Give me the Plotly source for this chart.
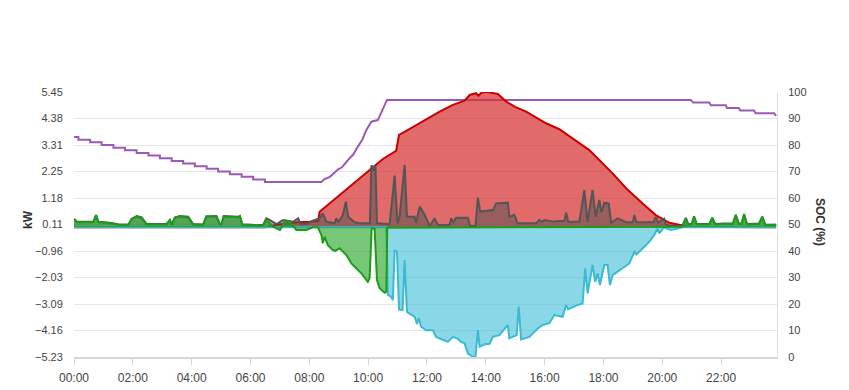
import plotly.graph_objects as go

# ---- data (time in hours of day) ----
hour_ticks = [0, 2, 4, 6, 8, 10, 12, 14, 16, 18, 20, 22]
hour_labels = ["00:00", "02:00", "04:00", "06:00", "08:00", "10:00", "12:00",
               "14:00", "16:00", "18:00", "20:00", "22:00"]
kw_ticks = [-5.23, -4.16, -3.09, -2.03, -0.96, 0.11, 1.18, 2.25, 3.31, 4.38, 5.45]
soc_ticks = [0, 10, 20, 30, 40, 50, 60, 70, 80, 90, 100]

solar_t = [0, 6.5, 6.9, 7.2, 7.6, 8.0, 8.3, 8.35, 8.6, 9.0, 9.26, 9.6, 10.16, 10.5, 10.95,
           11.05, 11.4, 11.75, 12.1, 12.43, 12.88, 13.28, 13.45, 13.67, 13.75, 13.85, 14.01,
           14.41, 14.7, 15.0, 15.37, 16.05, 16.5, 17.18, 17.52, 18.31, 18.77, 19.33, 19.78,
           20.24, 20.58, 20.9, 23.87]
solar_kw = [0, 0, 0.1, 0.15, 0.2, 0.22, 0.25, 0.62, 0.87, 1.25, 1.5, 1.86, 2.44, 2.75, 3.08,
            3.72, 3.95, 4.19, 4.4, 4.66, 4.93, 5.1, 5.33, 5.4, 5.3, 5.42, 5.46,
            5.37, 5.06, 4.85, 4.66, 4.19, 3.95, 3.38, 3.11, 2.17, 1.57, 0.96, 0.49,
            0.18, 0.09, 0.02, 0]

load_t = [0.0, 0.1, 0.66, 0.75, 0.83, 1.22, 1.5, 1.85, 1.96, 2.13, 2.3, 2.47, 3.15, 3.26, 3.32,
          3.43, 3.6, 3.88, 4.05, 4.39, 4.5, 4.84, 4.96, 5.01, 5.09, 5.58, 5.64, 5.72, 6.03,
          6.2, 6.43, 6.54, 6.65, 6.88, 7.11, 7.3, 7.45, 7.62, 7.7, 7.95, 8.12, 8.35, 8.46,
          8.58, 8.86, 8.92, 9.0, 9.14, 9.24, 9.32, 9.45, 9.54, 9.71, 10.06, 10.11, 10.18, 10.21,
          10.25, 10.3, 10.73, 10.9, 11.0, 11.07, 11.24, 11.32, 11.58, 11.63, 11.75, 11.92, 12.09,
          12.26, 12.37, 12.77, 12.82, 12.9, 12.99, 13.39, 13.47, 13.65, 13.73, 13.81, 14.24,
          14.35, 14.75, 14.8, 14.97, 15.08, 15.71, 15.82, 15.9, 16.0, 16.3, 16.5, 16.67,
          16.73, 16.8, 17.18, 17.35, 17.46, 17.63, 17.74, 17.86, 17.93, 18.03, 18.18, 18.26,
          18.48, 18.77, 19.0, 19.05, 19.12, 19.7, 19.78, 19.86, 20.06, 20.12, 20.3, 20.69,
          20.8, 20.88, 21.0, 21.08, 21.17, 21.6, 21.7, 21.8, 22.1, 22.4, 22.5, 22.6, 22.7,
          22.78, 22.88, 23.29, 23.4, 23.5, 23.83, 23.87]
load_kw = [0.33, 0.22, 0.22, 0.49, 0.22, 0.18, 0.12, 0.11, 0.33, 0.45, 0.4, 0.13, 0.13, 0.29, 0.11,
           0.39, 0.45, 0.42, 0.13, 0.11, 0.43, 0.45, 0.13, 0.13, 0.45, 0.42, 0.45, 0.12, 0.1,
           0.08, 0.1, 0.36, 0.3, 0.13, 0.29, 0.25, 0.22, 0.36, 0.13, 0.15, 0.26, 0.36, 0.56,
           0.22, 0.16, 0.36, 0.22, 0.49, 1.03, 0.42, 0.3, 0.2, 0.16, 0.16, 2.5, 2.3, 2.45,
           2.45, 0.16, 0.12, 2.08, 0.15, 0.42, 2.51, 0.42, 0.42, 0.18, 0.83, 0.5, 0.05,
           0.36, 0.09, 0.09, 0.36, 0.2, 0.38, 0.38, 0.05, 0.05, 1.19, 0.63, 0.69,
           0.96, 0.99, 0.42, 0.5, 0.16, 0.16, 0.29, 0.22, 0.29, 0.22, 0.25, 0.25,
           0.59, 0.22, 0.22, 1.5, 0.22, 1.5, 0.42, 1.1, 0.6, 0.99, 0.95, 0.18,
           0.36, 0.2, 0.2, 0.49, 0.2, 0.2, 0.42, 0.18, 0.35, 0.1, 0.05, 0.06,
           0.38, 0.13, 0.13, 0.44, 0.13, 0.13, 0.38, 0.13, 0.15, 0.15, 0.5, 0.15, 0.15,
           0.53, 0.13, 0.15, 0.43, 0.1, 0.1, 0.1]

grid_t = [0.0, 0.1, 0.66, 0.75, 0.83, 1.22, 1.5, 1.85, 1.96, 2.13, 2.3, 2.47, 3.15, 3.26, 3.32,
          3.43, 3.6, 3.88, 4.05, 4.39, 4.5, 4.84, 4.96, 5.01, 5.09, 5.58, 5.64, 5.72, 6.03,
          6.2, 6.43, 6.54, 6.77, 7.0, 7.17, 7.33, 7.45, 7.56, 7.9, 8.12, 8.29, 8.41, 8.46,
          8.52, 8.63, 8.8, 8.88, 9.03, 9.26, 9.43, 9.6, 9.77, 9.99, 10.05, 10.12, 10.22,
          10.3, 10.39, 10.56, 10.62, 10.65, 20.3, 20.69, 20.8, 20.88, 21.0, 21.08, 21.17,
          21.6, 21.7, 21.8, 22.1, 22.4, 22.5, 22.6, 22.7, 22.78, 22.88, 23.29, 23.4, 23.5,
          23.83, 23.87]
grid_kw = [0.33, 0.2, 0.2, 0.49, 0.2, 0.16, 0.1, 0.09, 0.33, 0.43, 0.36, 0.11, 0.11, 0.29, 0.09,
           0.39, 0.43, 0.39, 0.11, 0.09, 0.43, 0.43, 0.11, 0.11, 0.43, 0.4, 0.45, 0.1, 0.08,
           0.06, 0.08, 0.29, 0.02, -0.11, 0.22, 0.22, 0.05, -0.11, -0.11, 0.0, 0.0, -0.31, -0.65,
           -0.38, -0.72, -0.92, -0.95, -0.85, -1.12, -1.46, -1.66, -1.86, -2.2, -2.06, -0.05, -0.05,
           -2.13, -2.46, -2.64, -2.6, -0.02, 0.0, 0.02, 0.36, 0.1, 0.1, 0.42, 0.11,
           0.11, 0.36, 0.11, 0.13, 0.13, 0.49, 0.13, 0.13, 0.52, 0.11, 0.13, 0.42, 0.09,
           0.1, 0.1]

battery_t = [0, 10.62, 10.67, 10.78, 10.84, 10.9, 10.98, 11.05, 11.17, 11.24, 11.32, 11.47, 11.58,
             11.66, 11.72, 11.8, 11.97, 12.03, 12.2, 12.31, 12.54, 12.71, 12.88, 13.05, 13.16,
             13.28, 13.39, 13.56, 13.65, 13.73, 13.79, 13.96, 14.13, 14.24, 14.46, 14.75, 14.8,
             15.05, 15.12, 15.2, 15.48, 15.77, 15.93, 16.16, 16.33, 16.61, 16.73, 16.8, 17.12,
             17.29, 17.38, 17.46, 17.63, 17.72, 17.8, 17.88, 18.03, 18.14, 18.22, 18.31, 18.48,
             18.88, 19.05, 19.12, 19.45, 19.56, 19.73, 19.84, 19.9, 20.06, 20.15, 20.3, 20.69,
             23.87]
battery_kw = [0, 0, -2.73, -2.8, -2.94, -0.92, -0.99, -3.31, -3.34, -1.32, -3.41, -3.54, -3.61,
              -3.9, -3.67, -4.01, -4.15, -4.15, -4.15, -4.42, -4.55, -4.62, -4.42, -4.5, -4.62,
              -4.68, -5.09, -5.22, -5.22, -4.15, -4.82, -4.72, -4.7, -4.42, -4.35, -3.94, -4.48,
              -4.35, -3.2, -4.52, -4.42, -4.08, -3.94, -3.87, -3.54, -3.61, -3.14, -3.3, -3.14,
              -3.07, -1.66, -2.67, -1.52, -2.2, -1.86, -2.33, -1.52, -1.52, -2.33, -1.93, -1.79,
              -1.46, -0.99, -1.1, -0.72, -0.58, -0.31, -0.05, -0.25, 0.0, -0.05, -0.11, 0,
              0]

soc_t = [0, 0.15, 0.15, 0.55, 0.55, 0.94, 0.94, 1.34, 1.34, 1.73, 1.73, 2.13, 2.13, 2.53, 2.53,
         2.92, 2.92, 3.32, 3.32, 3.71, 3.71, 4.11, 4.11, 4.51, 4.51, 4.9, 4.9, 5.3, 5.3, 5.7, 5.7,
         6.09, 6.09, 6.49, 6.49, 8.41, 8.5, 8.58, 8.7, 8.98, 9.1, 9.37, 9.5, 9.65, 9.8, 9.94,
         10.11, 10.33, 10.64, 20.97, 21.05, 21.6, 21.65, 22.16, 22.2, 22.6, 22.65, 23.12, 23.17,
         23.8, 23.87]
soc_pct = [83, 83, 82, 82, 81, 81, 80, 80, 79, 79, 78, 78, 77, 77, 76,
           76, 75, 75, 74, 74, 73, 73, 72, 72, 71, 71, 70, 70, 69, 69, 68,
           68, 67, 67, 66, 66, 67, 67.4, 68, 70.8, 71.5, 75, 76.5, 79.4, 82, 85.7,
           88.8, 89.4, 97, 97, 96, 96, 95, 95, 94, 94, 93, 93, 92,
           92, 91]

fig = go.Figure()

fig.add_trace(go.Scatter(x=soc_t, y=soc_pct, mode="lines", name="SOC",
                         line=dict(color="#9b59b6", width=2), yaxis="y"))
fig.add_trace(go.Scatter(x=solar_t, y=solar_kw, mode="lines", name="Solar",
                         fill="tozeroy", fillcolor="rgba(214,48,49,0.72)",
                         line=dict(color="#cc0000", width=2), yaxis="y2"))
fig.add_trace(go.Scatter(x=load_t, y=load_kw, mode="lines", name="Load",
                         fill="tozeroy", fillcolor="rgba(80,80,80,0.5)",
                         line=dict(color="#555555", width=2), yaxis="y2"))
fig.add_trace(go.Scatter(x=battery_t, y=battery_kw, mode="lines", name="Battery",
                         fill="tozeroy", fillcolor="rgba(60,190,215,0.6)",
                         line=dict(color="#3bbad3", width=2), yaxis="y2"))
fig.add_trace(go.Scatter(x=grid_t, y=grid_kw, mode="lines", name="Grid",
                         fill="tozeroy", fillcolor="rgba(30,160,30,0.6)",
                         line=dict(color="#1a9e1a", width=2), yaxis="y2"))

tick_font = dict(family="Liberation Sans, Arial, sans-serif", size=11, color="#444")

fig.update_layout(
    width=849, height=390,
    margin=dict(l=74, r=72, t=92, b=33, autoexpand=False),
    paper_bgcolor="white", plot_bgcolor="white",
    showlegend=False,
    xaxis=dict(range=[0, 23.9], tickvals=hour_ticks, ticktext=hour_labels,
               showgrid=False, zeroline=False, showline=True, linecolor="#d6d6d6",
               linewidth=2, ticks="outside", ticklen=6, tickcolor="#d6d6d6",
               automargin=False, ticklabelstandoff=3,
               tickfont=dict(family="Liberation Sans, Arial, sans-serif", size=12, color="#444")),
    yaxis=dict(range=[0, 100], tickvals=soc_ticks, side="right",
               showgrid=True, gridcolor="#e6e6e6", gridwidth=1, zeroline=False,
               showline=True, linecolor="#e0e0e0", linewidth=1, automargin=False,
               ticks="outside", ticklen=8, tickcolor="rgba(0,0,0,0)",
               tickfont=tick_font),
    yaxis2=dict(range=[-5.23, 5.45], tickvals=kw_ticks, overlaying="y", side="left",
                showgrid=False, zeroline=False, showline=False, automargin=False,
                ticks="outside", ticklen=8, tickcolor="rgba(0,0,0,0)",
                tickfont=tick_font),
    annotations=[
        dict(text="<b>kW</b>", xref="paper", yref="paper", x=-0.0654, y=0.517,
             xanchor="center", yanchor="middle",
             showarrow=False, textangle=-90,
             font=dict(family="Liberation Sans, Arial, sans-serif", size=12, color="#333")),
        dict(text="<b>SOC (%)</b>", xref="paper", yref="paper", x=1.061, y=0.51,
             xanchor="center", yanchor="middle",
             showarrow=False, textangle=90,
             font=dict(family="Liberation Sans, Arial, sans-serif", size=12, color="#333")),
    ],
)

fig.write_html("out.html")
